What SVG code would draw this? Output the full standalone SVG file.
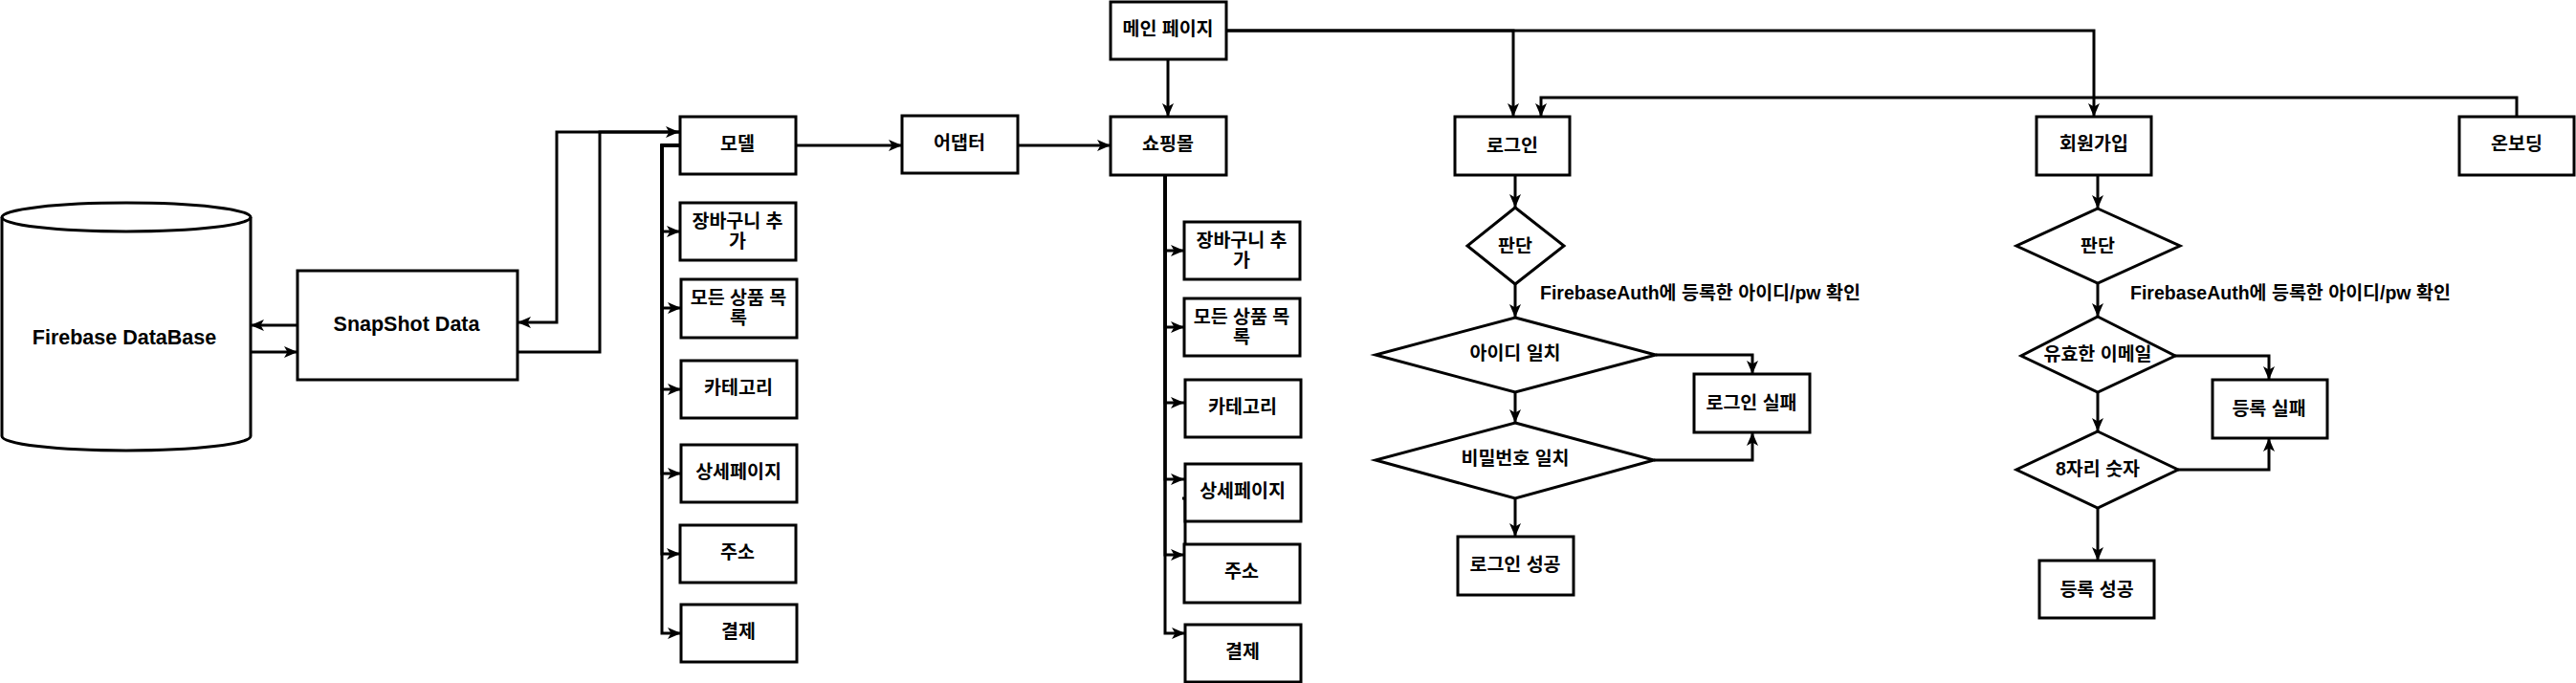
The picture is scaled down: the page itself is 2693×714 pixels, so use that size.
<svg xmlns="http://www.w3.org/2000/svg" width="2693" height="714" viewBox="0 0 2693 714">
<style>
.n{fill:#fff;stroke:#000;stroke-width:3}
.c{fill:none;stroke:#000;stroke-width:3;marker-end:url(#arr)}
.cn{fill:none;stroke:#000;stroke-width:3}
text{font-family:"Liberation Sans","Noto Sans CJK KR",sans-serif;font-weight:bold;font-size:19.5px;text-anchor:middle;dominant-baseline:central;fill:#000}
.big{font-size:21.5px}
.lab{text-anchor:start}
</style>
<defs>
<marker id="arr" markerUnits="userSpaceOnUse" markerWidth="14" markerHeight="12" refX="14" refY="6" orient="auto"><path d="M0,0 L14,6 L0,12 L3.5,6 Z" fill="#000"/></marker>
</defs>
<rect width="2693" height="714" fill="#fff"/>
<g id="connectors">
<path class="c" d="M311,340 H262"/>
<path class="c" d="M262,368 H311"/>
<path class="c" d="M541,368 H627 V138 H710"/>
<path class="c" d="M710,138 H582 V337 H541"/>
<path class="c" d="M710,152 H692 V242 H711"/>
<path class="c" d="M710,152 H692 V322 H712"/>
<path class="c" d="M710,152 H692 V407 H712"/>
<path class="c" d="M710,152 H692 V495 H712"/>
<path class="c" d="M710,152 H692 V579 H711"/>
<path class="c" d="M710,152 H692 V662 H712"/>
<path class="c" d="M832,152 H943"/>
<path class="c" d="M1064,152 H1161"/>
<path class="c" d="M1221,62 V122"/>
<path class="c" d="M1218,183 V262 H1238"/>
<path class="c" d="M1218,183 V342 H1238"/>
<path class="c" d="M1218,183 V421 H1238"/>
<path class="c" d="M1218,183 V501 H1238"/>
<path class="c" d="M1218,183 V580 H1238"/>
<path class="c" d="M1218,183 V662 H1239"/>
<path class="c" d="M1236,521 H1239 V601 H1258"/>
<path class="c" d="M1282,32 H1582 V122"/>
<path class="c" d="M1282,32 H2189 V122"/>
<path class="c" d="M2631,122 V102 H1611 V122"/>
<path class="c" d="M1584,183 V217"/>
<path class="c" d="M1584,297 V332"/>
<path class="c" d="M1731,371 H1832 V391"/>
<path class="c" d="M1584,410 V442"/>
<path class="c" d="M1729,481 H1832 V452"/>
<path class="c" d="M1584,521 V561"/>
<path class="c" d="M2193,183 V218"/>
<path class="c" d="M2193,296 V331"/>
<path class="c" d="M2274,372 H2372 V397"/>
<path class="c" d="M2193,410 V451"/>
<path class="c" d="M2277,491 H2372 V458"/>
<path class="c" d="M2193,531 V586"/>
</g>
<g id="firebase">
<path class="n" d="M2,227 A130,15 0 0 1 262,227 V456 A130,15 0 0 1 2,456 Z"/>
<path class="cn" d="M2,227 A130,15 0 0 0 262,227"/>
<text class="big" x="130" y="353">Firebase DataBase</text>
</g>
<g id="snapshot"><rect class="n" x="311" y="283" width="230" height="114"/><text class="big" x="425" y="339">SnapShot Data</text></g>
<g id="model"><rect class="n" x="711" y="122" width="121" height="60"/><text x="771" y="150">모델</text></g>
<g id="m-cart"><rect class="n" x="711" y="212" width="121" height="60"/><text x="771" y="231">장바구니 추</text><text x="771" y="252">가</text></g>
<g id="m-all"><rect class="n" x="712" y="292" width="121" height="61"/><text x="772" y="311">모든 상품 목</text><text x="772" y="332">록</text></g>
<g id="m-cat"><rect class="n" x="712" y="377" width="121" height="60"/><text x="772" y="405">카테고리</text></g>
<g id="m-detail"><rect class="n" x="712" y="465" width="121" height="60"/><text x="772" y="493">상세페이지</text></g>
<g id="m-addr"><rect class="n" x="711" y="549" width="121" height="60"/><text x="771" y="577">주소</text></g>
<g id="m-pay"><rect class="n" x="712" y="632" width="121" height="60"/><text x="772" y="660">결제</text></g>
<g id="adapter"><rect class="n" x="943" y="121" width="121" height="60"/><text x="1003" y="149">어댑터</text></g>
<g id="main"><rect class="n" x="1161" y="2" width="121" height="60"/><text x="1221" y="30">메인 페이지</text></g>
<g id="mall"><rect class="n" x="1161" y="122" width="121" height="61"/><text x="1221" y="150">쇼핑몰</text></g>
<g id="s-cart"><rect class="n" x="1238" y="232" width="121" height="60"/><text x="1298" y="251">장바구니 추</text><text x="1298" y="272">가</text></g>
<g id="s-all"><rect class="n" x="1238" y="312" width="121" height="60"/><text x="1298" y="331">모든 상품 목</text><text x="1298" y="352">록</text></g>
<g id="s-cat"><rect class="n" x="1239" y="397" width="121" height="60"/><text x="1299" y="425">카테고리</text></g>
<g id="s-detail"><rect class="n" x="1239" y="485" width="121" height="60"/><text x="1299" y="513">상세페이지</text></g>
<g id="s-addr"><rect class="n" x="1238" y="569" width="121" height="61"/><text x="1298" y="597">주소</text></g>
<g id="s-pay"><rect class="n" x="1239" y="653" width="121" height="60"/><text x="1299" y="681">결제</text></g>
<g id="login"><rect class="n" x="1521" y="122" width="120" height="61"/><text x="1581" y="152">로그인</text></g>
<g id="login-judge"><path class="n" d="M1584,217 L1635,257 L1584,297 L1534,257 Z"/><text x="1584" y="257">판단</text></g>
<text id="login-label" class="lab" x="1610" y="306">FirebaseAuth에 등록한 아이디/pw 확인</text>
<g id="id-match"><path class="n" d="M1584,332 L1731,371 L1584,410 L1438,371 Z"/><text x="1584" y="369">아이디 일치</text></g>
<g id="pw-match"><path class="n" d="M1584,442 L1729,481 L1584,521 L1438,481 Z"/><text x="1584" y="479">비밀번호 일치</text></g>
<g id="login-fail"><rect class="n" x="1771" y="391" width="121" height="61"/><text x="1831" y="421">로그인 실패</text></g>
<g id="login-ok"><rect class="n" x="1524" y="561" width="121" height="61"/><text x="1584" y="590">로그인 성공</text></g>
<g id="signup"><rect class="n" x="2129" y="122" width="120" height="61"/><text x="2189" y="150">회원가입</text></g>
<g id="onboarding"><rect class="n" x="2571" y="122" width="120" height="61"/><text x="2631" y="150">온보딩</text></g>
<g id="signup-judge"><path class="n" d="M2193,218 L2279,257 L2193,296 L2108,257 Z"/><text x="2193" y="257">판단</text></g>
<text id="signup-label" class="lab" x="2227" y="306">FirebaseAuth에 등록한 아이디/pw 확인</text>
<g id="email"><path class="n" d="M2193,331 L2274,372 L2193,410 L2113,372 Z"/><text x="2193" y="370">유효한 이메일</text></g>
<g id="digits"><path class="n" d="M2193,451 L2277,491 L2193,531 L2108,491 Z"/><text x="2193" y="490">8자리 숫자</text></g>
<g id="reg-fail"><rect class="n" x="2313" y="397" width="120" height="61"/><text x="2372" y="427">등록 실패</text></g>
<g id="reg-ok"><rect class="n" x="2132" y="586" width="120" height="60"/><text x="2192" y="616">등록 성공</text></g>
</svg>
